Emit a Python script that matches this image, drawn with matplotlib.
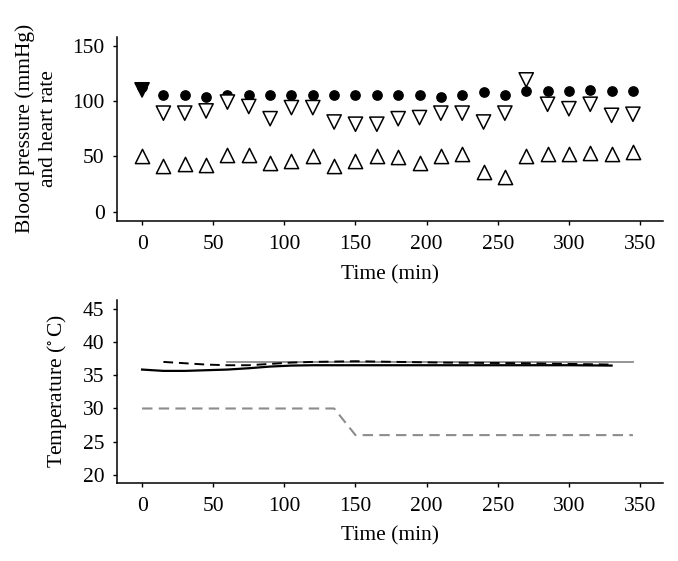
import matplotlib
matplotlib.use("Agg")
import matplotlib.pyplot as plt

# --- top panel: blood pressure and heart rate, every 15 min ---
time_bp = [0, 15, 30, 45, 60, 75, 90, 105, 120, 135, 150, 165,
           180, 195, 210, 225, 240, 255, 270, 285, 300, 315, 330, 345]
heart_rate = [113, 105, 105, 104, 105, 105, 105, 105, 105, 105, 105, 105,
              105, 105, 104, 105, 108, 105, 109, 109, 109, 110, 109, 109]
systolic = [110, 89, 89, 91, 99, 95, 84, 94, 94, 81, 79, 79,
            84, 85, 89, 89, 81, 89, 119, 97, 93, 97, 87, 88]
diastolic = [50, 41, 43, 42, 51, 51, 44, 46, 50, 41, 46, 50,
             49, 44, 50, 52, 36, 31, 50, 52, 52, 53, 52, 54]

# --- bottom panel: temperatures ---
core_t = [0, 15, 30, 45, 60, 75, 90, 105, 120, 150, 200, 250, 300, 330]
core_temp = [35.85, 35.65, 35.65, 35.75, 35.85, 36.05, 36.3, 36.45, 36.5,
             36.5, 36.5, 36.5, 36.5, 36.45]
skin_t = [15, 30, 45, 60, 75, 90, 105, 120, 150, 180, 210, 240, 270, 300, 330]
skin_temp = [37.0, 36.8, 36.6, 36.5, 36.5, 36.7, 36.9, 37.0, 37.1, 37.0,
             36.9, 36.85, 36.8, 36.7, 36.6]
target_t = [60, 345]
target_temp = [37.0, 37.0]
room_t = [0, 135, 150, 345]
room_temp = [30, 30, 26, 26]

plt.rcParams["font.family"] = ["Liberation Serif", "DejaVu Serif"]
plt.rcParams["mathtext.fontset"] = "stix"

FS = 15.5

fig = plt.figure(figsize=(6.78, 5.61), dpi=100, facecolor="white")
ax1 = fig.add_axes([0.1726, 0.606, 0.8054, 0.3286])
ax2 = fig.add_axes([0.1726, 0.1396, 0.8054, 0.3256])

for ax in (ax1, ax2):
    for side in ("top", "right"):
        ax.spines[side].set_visible(False)
    for side in ("left", "bottom"):
        ax.spines[side].set_linewidth(1.1)
    ax.tick_params(direction="out", length=3, width=1.0, labelsize=FS)
    ax.tick_params(axis="x", pad=7)
    ax.tick_params(axis="y", pad=6)
    ax.set_xlim(-17.6, 366.2)
    ax.set_xticks([0, 50, 100, 150, 200, 250, 300, 350])
    ax.set_xlabel("Time (min)", fontsize=FS, labelpad=8)

# top panel markers
faces = ["black"] + ["white"] * (len(time_bp) - 1)
ax1.scatter(time_bp, heart_rate, marker="o", s=45, color="black", zorder=2)
ax1.scatter(time_bp, systolic, marker="v", s=105, facecolors=faces,
            edgecolors="black", linewidths=1.1, zorder=3)
ax1.scatter(time_bp, diastolic, marker="^", s=105, facecolors="white",
            edgecolors="black", linewidths=1.1, zorder=3)
ax1.set_ylim(-8.4, 158)
ax1.set_yticks([0, 50, 100, 150])
ax1.set_ylabel("Blood pressure (mmHg)\nand heart rate", fontsize=FS,
               labelpad=10, linespacing=1.3)

# bottom panel lines
ax2.plot(room_t, room_temp, color="#8c8c8c", lw=1.5, dashes=(5, 3))
ax2.plot(target_t, target_temp, color="#8c8c8c", lw=1.3)
ax2.plot(core_t, core_temp, color="black", lw=1.6)
ax2.plot(skin_t, skin_temp, color="black", lw=1.4, dashes=(5, 3))
ax2.set_ylim(18.85, 46.3)
ax2.set_yticks([20, 25, 30, 35, 40, 45])
ax2.set_ylabel("Temperature ($^{\\circ}\\,$C)", fontsize=FS, labelpad=10)

fig.savefig("out.png", dpi=100, facecolor="white")
